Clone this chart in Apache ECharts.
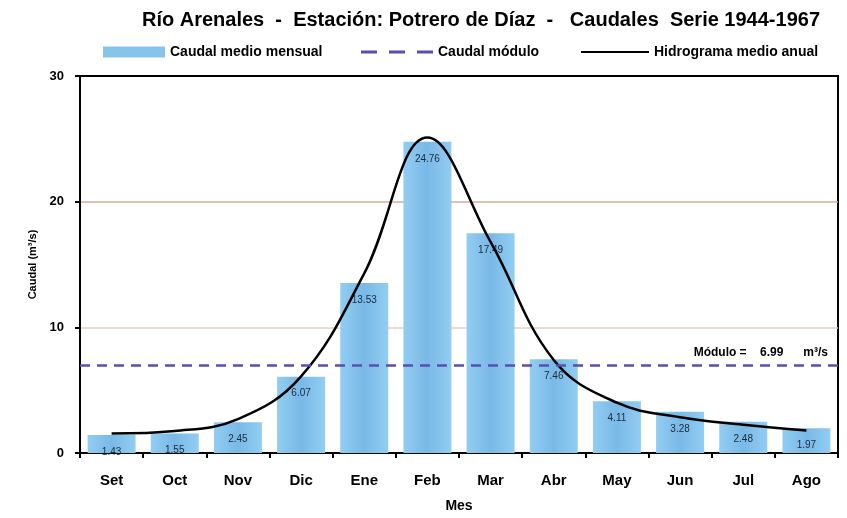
<!DOCTYPE html>
<html><head><meta charset="utf-8">
<script src="https://cdn.jsdelivr.net/npm/echarts@6/dist/echarts.min.js"></script>
<style>html,body{margin:0;padding:0;background:#fff}#c{width:847px;height:518px}</style>
</head><body><div id="c"></div>
<script>
var months = ['Set','Oct','Nov','Dic','Ene','Feb','Mar','Abr','May','Jun','Jul','Ago'];
var caudalMedio = [1.43,1.55,2.45,6.07,13.53,24.76,17.49,7.46,4.11,3.28,2.48,1.97];
var hidrograma = [1.55,1.75,2.7,6.1,14.3,25.1,16.8,7.4,4.0,2.85,2.25,1.8];
var modulo = 6.99;
var yTicks = [0,10,20,30];

var F = "'Liberation Sans',Arial,sans-serif";
var TS = {fontFamily:F,fontWeight:'bold',fontSize:14,color:'#000'};
var chart = echarts.init(document.getElementById('c'), null, {renderer:'canvas'});
chart.setOption({
  animation:false,
  title:{text:'Río Arenales  -  Estación: Potrero de Díaz  -   Caudales  Serie 1944-1967',
    left:476, top:5, textAlign:'center',
    textStyle:{fontFamily:F,fontWeight:'bold',fontSize:20,color:'#000'}},
  legend:[
    {left:98,top:40,itemWidth:62,itemHeight:11,itemGap:4,textStyle:TS,
      data:[{name:'Caudal medio mensual',icon:'rect',itemStyle:{color:'#86c4ec'}}]},
    {left:356,top:40,itemWidth:72,itemHeight:3,textStyle:TS,
      data:[{name:'Caudal módulo',icon:'path://M0,0H16V3H0Z M28,0H44V3H28Z M56,0H72V3H56Z',itemStyle:{color:'#5a4fb0'}}]},
    {left:576,top:40,itemWidth:68,itemHeight:2,textStyle:TS,
      data:[{name:'Hidrograma medio anual',icon:'rect',itemStyle:{color:'#000'}}]}
  ],
  grid:{left:80,right:9,top:76,bottom:63,show:true,borderColor:'#000',borderWidth:2},
  xAxis:{type:'category',data:months,
    axisLine:{lineStyle:{color:'#000',width:2}},
    axisTick:{show:true,lineStyle:{color:'#000',width:2},length:5},
    axisLabel:{fontFamily:F,fontWeight:'bold',fontSize:15,color:'#000',margin:20},
    name:'Mes',nameLocation:'middle',nameGap:46,
    nameTextStyle:{fontFamily:F,fontWeight:'bold',fontSize:14,color:'#000'}},
  yAxis:{type:'value',min:0,max:30,interval:10,
    axisLine:{show:true,lineStyle:{color:'#000',width:2}},
    axisTick:{show:true,lineStyle:{color:'#000',width:2},length:5},
    axisLabel:{fontFamily:F,fontWeight:'bold',fontSize:13,color:'#000',margin:16,
      formatter:function(v){return yTicks.indexOf(v)>=0?String(v):'';}},
    splitLine:{show:true,lineStyle:{color:['rgba(0,0,0,0)','#e6cfc4','#d4ad9c','#000'],width:1.5,type:'solid'}},
    name:'Caudal (m³/s)',nameLocation:'middle',nameGap:42,nameRotate:90,
    nameTextStyle:{fontFamily:F,fontWeight:'bold',fontSize:11,color:'#000'}},
  series:[
    {name:'Caudal medio mensual',type:'bar',data:caudalMedio,barWidth:'76%',
      itemStyle:{color:new echarts.graphic.LinearGradient(0,0,1,0,[
        {offset:0,color:'#92cdf2'},{offset:0.5,color:'#79b9e7'},{offset:1,color:'#92cdf2'}])},
      label:{show:true,position:'insideTop',distance:12,fontFamily:F,fontSize:10,color:'#1a2a3a',
        formatter:function(p){return p.value.toFixed(2);}},
      z:2},
    {name:'Caudal módulo',type:'line',data:[],symbol:'none',
      lineStyle:{color:'#5a4fb0',type:[10,7],width:2.5},itemStyle:{color:'#5a4fb0'},
      markLine:{silent:true,symbol:'none',
        lineStyle:{color:'#5a4fb0',type:[10,7],width:2.5},
        label:{show:true,position:'insideEndTop',distance:[10,6],
          formatter:'Módulo =    '+modulo.toFixed(2)+'      m³/s',
          fontFamily:F,fontWeight:'bold',fontSize:12,color:'#000'},
        data:[{yAxis:modulo}]},
      z:3},
    {name:'Hidrograma medio anual',type:'line',data:hidrograma,smooth:0.4,symbol:'none',
      lineStyle:{color:'#000',width:2.5},itemStyle:{color:'#000'},z:4}
  ]
});
</script></body></html>
